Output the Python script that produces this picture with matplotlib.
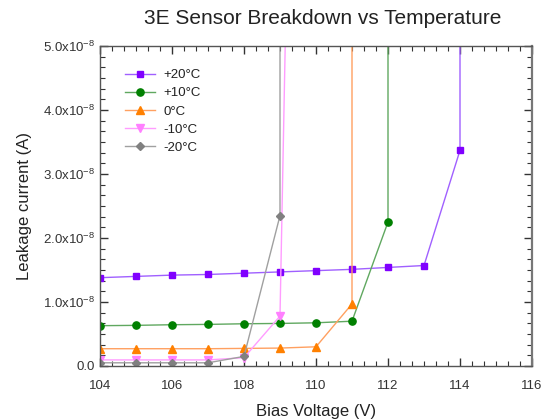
import matplotlib
matplotlib.use("Agg")
import matplotlib.pyplot as plt
from matplotlib.ticker import AutoMinorLocator, FixedLocator, FuncFormatter

plt.rcParams['font.family'] = ['Liberation Sans', 'DejaVu Sans']
plt.rcParams['mathtext.fontset'] = 'custom'
plt.rcParams['mathtext.rm'] = 'Liberation Sans'
plt.rcParams['mathtext.it'] = 'Liberation Sans'
plt.rcParams['mathtext.bf'] = 'Liberation Sans'
plt.rcParams['axes.unicode_minus'] = False

# Data (bias voltage in V, leakage current in A); last point per series is the breakdown (off scale)
v_p20 = [104, 105, 106, 107, 108, 109, 110, 111, 112, 113, 114, 114]
i_p20 = [1.38e-8, 1.40e-8, 1.42e-8, 1.43e-8, 1.45e-8, 1.47e-8, 1.49e-8, 1.51e-8, 1.54e-8, 1.57e-8, 3.37e-8, 1e-6]

v_p10 = [104, 105, 106, 107, 108, 109, 110, 111, 112, 112]
i_p10 = [0.63e-8, 0.635e-8, 0.645e-8, 0.65e-8, 0.66e-8, 0.665e-8, 0.675e-8, 0.70e-8, 2.25e-8, 1e-6]

v_0 = [104, 105, 106, 107, 108, 109, 110, 111, 111]
i_0 = [0.27e-8, 0.27e-8, 0.27e-8, 0.27e-8, 0.275e-8, 0.28e-8, 0.30e-8, 0.97e-8, 1e-6]

v_m10 = [104, 105, 106, 107, 108, 109, 110]
i_m10 = [0.095e-8, 0.095e-8, 0.095e-8, 0.095e-8, 0.13e-8, 0.78e-8, 3.0e-7]

v_m20 = [104, 105, 106, 107, 108, 109, 109]
i_m20 = [0.05e-8, 0.05e-8, 0.05e-8, 0.05e-8, 0.15e-8, 2.35e-8, 1e-6]

labels = ['+20\u00b0C', '+10\u00b0C', '0\u00b0C', '-10\u00b0C', '-20\u00b0C']

series = [
    (v_p20, i_p20, '#8000FF', '#A060FF', 's', 5.0),
    (v_p10, i_p10, '#008000', '#60A860', 'o', 5.2),
    (v_0, i_0, '#FF8000', '#FFA060', '^', 6.2),
    (v_m10, i_m10, '#FF80FF', '#FF9CFF', 'v', 6.2),
    (v_m20, i_m20, '#808080', '#A0A0A0', 'D', 4.2),
]

fig = plt.figure(figsize=(5.52, 4.2), dpi=100)
ax = fig.add_axes([100/552, 1-366/420, 432/552, 320/420])

for (x, y, mc, lc, m, ms), lab in zip(series, labels):
    ax.plot(x, y, color=lc, lw=1.0, marker=m, markersize=ms,
            markerfacecolor=mc, markeredgecolor=mc, label=lab)

ax.set_xlim(104, 116)
ax.set_ylim(0, 5.0e-8)
ax.xaxis.set_major_locator(FixedLocator([104, 106, 108, 110, 112, 114, 116]))
ax.xaxis.set_minor_locator(AutoMinorLocator(6))
ax.yaxis.set_major_locator(FixedLocator([0, 1e-8, 2e-8, 3e-8, 4e-8, 5e-8]))
ax.yaxis.set_minor_locator(AutoMinorLocator(6))

def yfmt(v, pos):
    if abs(v) < 1e-12:
        return '0.0'
    return '%.1fx10$^{\\mathregular{-8}}$' % (v / 1e-8)

ax.yaxis.set_major_formatter(FuncFormatter(yfmt))

ax.tick_params(which='both', direction='in', top=True, right=True, color='#333333')
ax.tick_params(which='major', length=6, width=1.0, labelsize=9.5, colors='#333333', labelcolor='#333333')
ax.tick_params(which='minor', length=3.5, width=0.8)
ax.tick_params(axis='x', pad=10)
for s in ax.spines.values():
    s.set_color('#555555')
    s.set_linewidth(1.0)
ax.spines['right'].set_linewidth(1.6)
ax.spines['right'].set_color('#777777')

ax.set_xlabel('Bias Voltage (V)', fontsize=12, color='#222222', labelpad=9)
ax.set_ylabel('Leakage current (A)', fontsize=12, color='#222222', labelpad=8)
fig.text(0.585, 0.955, '3E Sensor Breakdown vs Temperature', ha='center', va='center',
         fontsize=15, color='#222222')

leg = ax.legend(loc='upper left', bbox_to_anchor=(0.03, 0.965), frameon=False,
                fontsize=9.5, handlelength=2.3, labelspacing=0.45, handletextpad=0.6)
for t in leg.get_texts():
    t.set_color('#222222')

fig.savefig('out.png', dpi=100)
